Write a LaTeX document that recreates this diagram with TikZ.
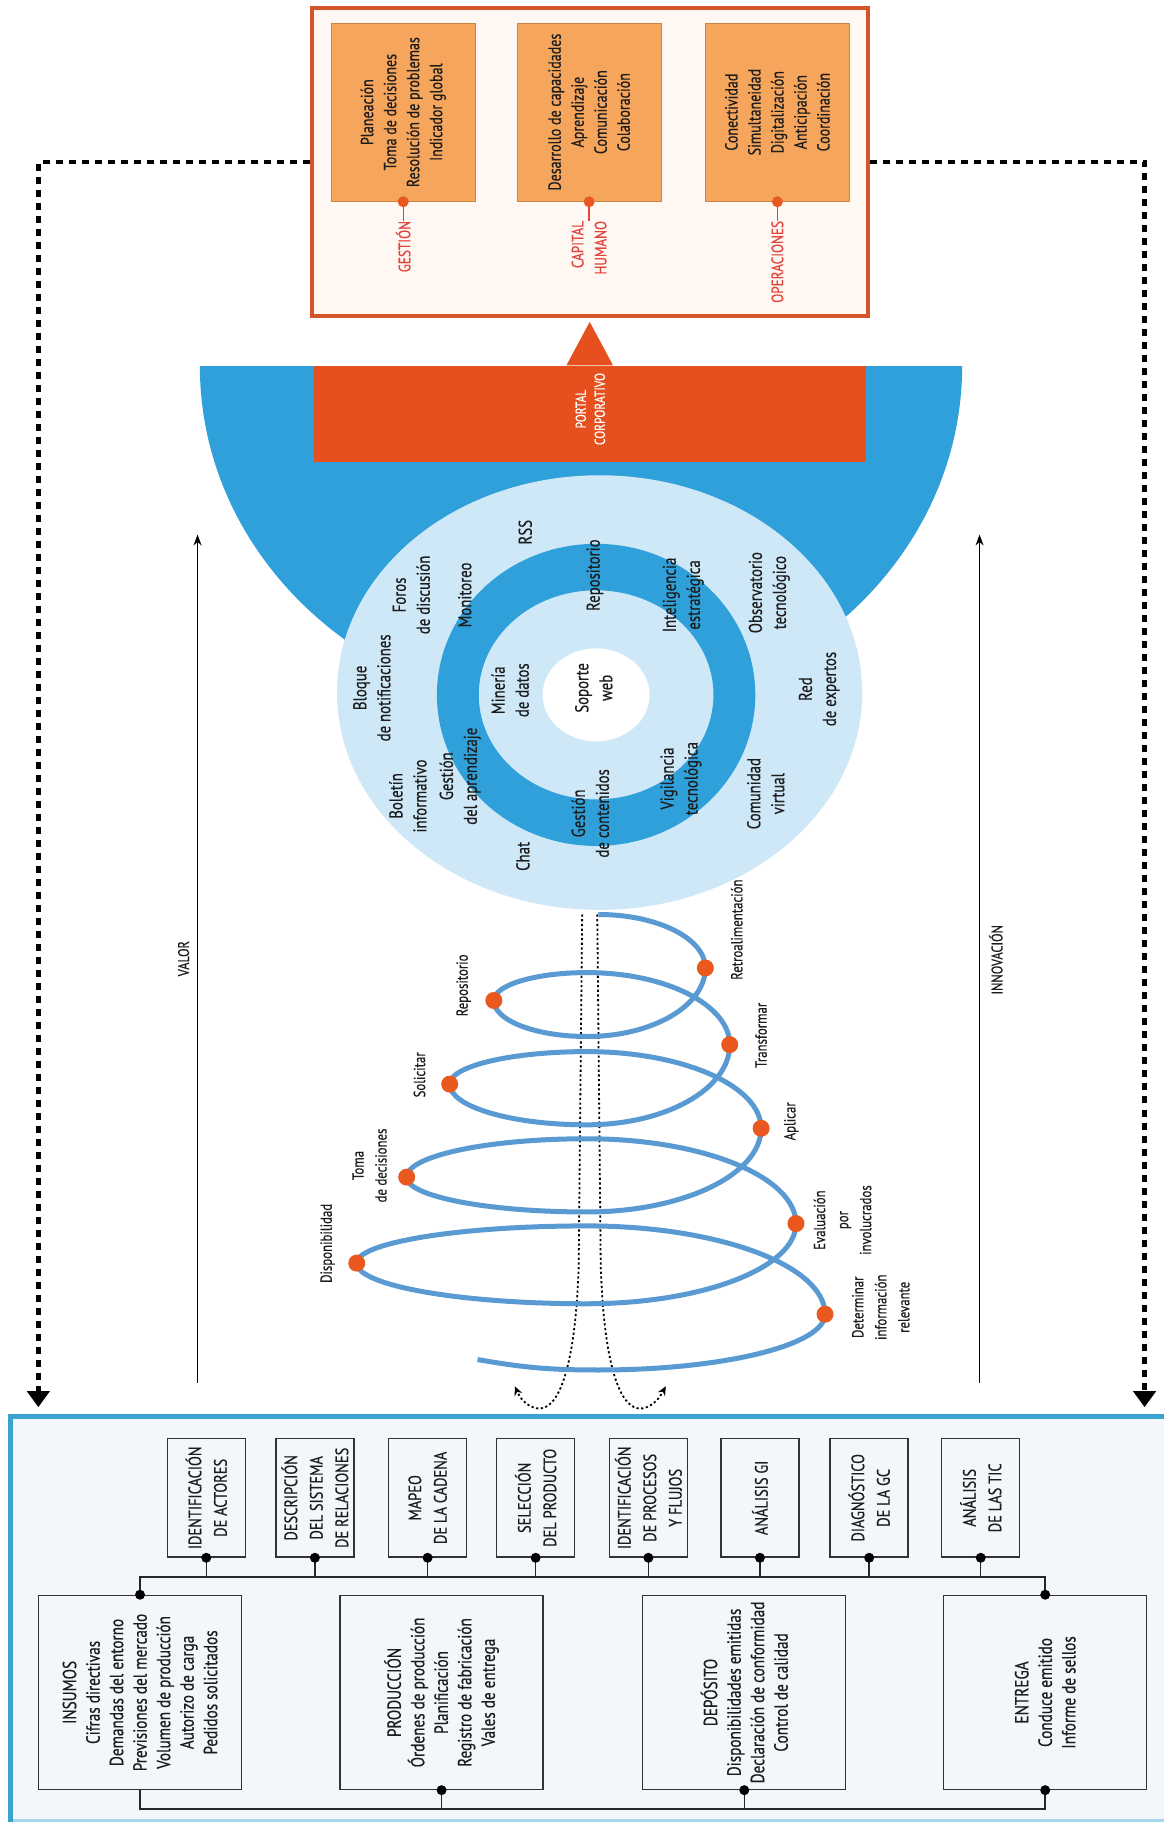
\documentclass[tikz,border=0pt]{standalone}
\usepackage{fontspec}
\setmainfont{PT Sans}[FakeStretch=0.8, FakeBold=0.5]
\usetikzlibrary{arrows.meta,calc}
\definecolor{portalorange}{HTML}{E5501E}
\definecolor{ringblue}{HTML}{2FA0DA}
\definecolor{lightring}{HTML}{CFE8F7}
\definecolor{boxorange}{HTML}{F5A55C}
\definecolor{boxedge}{HTML}{C98543}
\definecolor{topframe}{HTML}{D5552B}
\definecolor{topfill}{HTML}{FFF8F2}
\definecolor{labelred}{HTML}{E0443C}
\definecolor{dotorange}{HTML}{E8581F}
\definecolor{spiralblue}{HTML}{5A9AD2}
\definecolor{frameblue}{HTML}{3AA3D2}
\definecolor{framefill}{HTML}{F3F6FA}
\definecolor{textdark}{HTML}{1C1C1C}
\tikzset{
  rtext/.style={rotate=90, align=center, inner sep=0pt, text=textdark},
  toptext/.style={rtext, font=\fontsize{17.5}{23}\selectfont},
  circtext/.style={rtext, font=\fontsize{18.5}{24}\selectfont},
  spirtext/.style={rtext, font=\fontsize{16}{23}\selectfont},
  redlabel/.style={rotate=90, anchor=east, align=right, inner sep=0pt, text=labelred, font=\fontsize{16.5}{23}\selectfont},
  obox/.style={draw=boxedge, fill=boxorange, line width=1.2pt, minimum width=144pt, minimum height=178pt, inner sep=0pt},
  sbox/.style={draw=black!80, fill=framefill, line width=1.4pt, minimum width=78pt, minimum height=118.5pt, inner sep=0pt},
  lbox/.style={draw=black!80, fill=framefill, line width=1.4pt, minimum width=203pt, minimum height=194pt, inner sep=0pt},
  stext/.style={rtext, font=\fontsize{18}{25.5}\selectfont},
  ltext/.style={rtext, font=\fontsize{19}{23.5}\selectfont},
  bigdash/.style={line width=4.5pt, dash pattern=on 7pt off 6pt, black},
  dotline/.style={line width=1.8pt, dash pattern=on 2.2pt off 2.5pt, black},
  helix/.style={line width=5pt, spiralblue},
  hdot/.style={circle, fill=dotorange, minimum size=17pt, inner sep=0pt},
  bdot/.style={circle, fill=black, minimum size=10pt, inner sep=0pt},
  conn/.style={line width=1.5pt, black!85},
  rdot/.style={circle, fill=dotorange, minimum size=11pt, inner sep=0pt},
}
\begin{document}
\begin{tikzpicture}[x=1.1618pt, y=1.1618pt]
\path[use as bounding box, fill=white] (0,0) rectangle (1001,-1568);

% ---------- top frame ----------
\node[draw=topframe, fill=topfill, line width=4pt, minimum width=556pt, minimum height=308pt, inner sep=0pt] (topframe) at (507.5,-139.5) {};
\node[obox] (g1) at (347,-96.5) {};
\node[obox] (g2) at (507,-96.5) {};
\node[obox] (g3) at (669,-96.5) {};
\node[toptext] (g1t) at (g1) {Planeación\\Toma de decisiones\\Resolución de problemas\\Indicador global};
\node[toptext] (g2t) at (g2) {Desarrollo de capacidades\\Aprendizaje\\Comunicación\\Colaboración};
\node[toptext] (g3t) at (g3) {Conectividad\\Simultaneidad\\Digitalización\\Anticipación\\Coordinación};
\node[redlabel] (g1l) at (347,-190) {GESTIÓN};
\node[redlabel] (g2l) at (507,-190) {CAPITAL\\HUMANO};
\node[redlabel] (g3l) at (669,-190) {OPERACIONES};
\draw[labelred, line width=1.3pt] (g1.south) -- (g1l.east);
\draw[labelred, line width=1.3pt] (g2.south) -- (g2l.east);
\draw[labelred, line width=1.3pt] (g3.south) -- (g3l.east);
\node[rdot] (g1d) at (g1.south) {};
\node[rdot] (g2d) at (g2.south) {};
\node[rdot] (g3d) at (g3.south) {};

% ---------- dashed feedback lines ----------
\coordinate (lcorner) at (33,-139.5);
\coordinate (ltip) at (33,-1211);
\coordinate (rcorner) at (985,-139.5);
\coordinate (rtip) at (985,-1211);
\draw[bigdash, -{Triangle[width=22pt,length=16pt]}] (topframe.west) -- (lcorner) -- (ltip);
\draw[bigdash, -{Triangle[width=22pt,length=16pt]}] (topframe.east) -- (rcorner) -- (rtip);

% ---------- portal ----------
\fill[ringblue] (172,-315) arc[start angle=180, end angle=360, x radius=328, y radius=300] -- cycle;
\node[fill=portalorange, minimum width=552pt, minimum height=96.4pt, inner sep=0pt] (portal) at (507.5,-356.5) {};
\fill[portalorange] ($(portal.north)+(-20,0.5)$) -- (507.5,-277) -- ($(portal.north)+(20,0.5)$) -- cycle;
\node[rtext, text=white, font=\fontsize{14.5}{19}\selectfont] (portalt) at (508,-352) {PORTAL\\CORPORATIVO};

% ---------- circles ----------
\fill[lightring] (516,-596) ellipse[x radius=226, y radius=187];
\fill[ringblue, even odd rule] (513,-598) ellipse[x radius=137, y radius=130] (513,-598) ellipse[x radius=101, y radius=90];
\fill[white] (513,-598) ellipse[x radius=46, y radius=40];

\node[circtext] (c1) at (452,-458) {RSS};
\node[circtext] (c2) at (354,-512) {Foros\\de discusión};
\node[circtext] (c3) at (400,-512) {Monitoreo};
\node[circtext] (c4) at (512,-495) {Repositorio};
\node[circtext] (c5) at (588,-512) {Inteligencia\\estratégica};
\node[circtext] (c6) at (662,-510) {Observatorio\\tecnológico};
\node[circtext] (c7) at (320,-592) {Bloque\\de notificaciones};
\node[circtext] (c8) at (439,-594) {Minería\\de datos};
\node[circtext] (c9) at (511,-592) {Soporte\\web};
\node[circtext] (c10) at (705,-593) {Red\\de expertos};
\node[circtext] (c11) at (351,-685) {Boletín\\informativo};
\node[circtext] (c12) at (396,-668) {Gestión\\del aprendizaje};
\node[circtext] (c13) at (508,-700) {Gestión\\de contenidos};
\node[circtext] (c14) at (586,-670) {Vigilancia\\tecnológica};
\node[circtext] (c15) at (659,-683) {Comunidad\\virtual};
\node[circtext] (c16) at (450,-737) {Chat};

% ---------- side arrows ----------
\coordinate (vb) at (170,-1190);
\coordinate (vt) at (170,-460);
\coordinate (ib) at (843,-1190);
\coordinate (it) at (843,-460);
\draw[line width=1.2pt, -{Stealth[length=11pt,width=8pt]}] (vb) -- (vt);
\draw[line width=1.2pt, -{Stealth[length=11pt,width=8pt]}] (ib) -- (it);
\node[rtext, font=\fontsize{15.5}{18}\selectfont] (valor) at (158,-825) {VALOR};
\node[rtext, font=\fontsize{15.5}{18}\selectfont] (innov) at (857,-826) {INNOVACIÓN};

% ---------- dotted axis ----------
\coordinate (dl0) at (501,-787);
\coordinate (dr0) at (514,-787);
\coordinate (dlt) at (443,-1193);
\coordinate (drt) at (573,-1193);
\draw[dotline, -{Stealth[length=9pt,width=8pt]}] (dl0) -- (498,-1090) .. controls (495,-1180) and (480,-1215) .. (462,-1212) .. controls (452,-1210) and (447,-1202) .. (dlt);
\draw[dotline, -{Stealth[length=9pt,width=8pt]}] (dr0) -- (517,-1090) .. controls (520,-1180) and (535,-1215) .. (553,-1212) .. controls (563,-1210) and (568,-1202) .. (drt);

% ---------- helix ----------
\draw[helix] (515,-787)
  arc[start angle=90, end angle=0, x radius=92, y radius=46]
  arc[start angle=0, end angle=-90, x radius=102, y radius=59]
  arc[start angle=-90, end angle=-180, x radius=80, y radius=31]
  arc[start angle=180, end angle=90, x radius=80, y radius=24]
  arc[start angle=90, end angle=0, x radius=123, y radius=62]
  arc[start angle=0, end angle=-90, x radius=123, y radius=69]
  arc[start angle=-90, end angle=-180, x radius=118, y radius=35]
  arc[start angle=180, end angle=90, x radius=118, y radius=28]
  arc[start angle=90, end angle=0, x radius=150, y radius=66]
  arc[start angle=0, end angle=-90, x radius=150, y radius=72]
  arc[start angle=-90, end angle=-180, x radius=155, y radius=30]
  arc[start angle=180, end angle=90, x radius=155, y radius=33]
  arc[start angle=90, end angle=0, x radius=180, y radius=73]
  arc[start angle=0, end angle=-90, x radius=180, y radius=69]
  arc[start angle=-90, end angle=-180, x radius=198, y radius=35]
  arc[start angle=180, end angle=90, x radius=198, y radius=32]
  arc[start angle=90, end angle=0, x radius=205, y radius=76]
  arc[start angle=0, end angle=-90, x radius=195, y radius=48]
  to[out=180, in=-10] (411,-1170);

\node[hdot] (r1) at (607,-833) {};
\node[hdot] (r2) at (628,-899) {};
\node[hdot] (r3) at (655,-971) {};
\node[hdot] (r4) at (685,-1053) {};
\node[hdot] (r5) at (710,-1131) {};
\node[hdot] (l1) at (425,-861) {};
\node[hdot] (l2) at (387,-933) {};
\node[hdot] (l3) at (350,-1013) {};
\node[hdot] (l4) at (307,-1087) {};

\node[spirtext] (sr1) at (634,-800) {Retroalimentación};
\node[spirtext] (sl1) at (399,-848) {Repositorio};
\node[spirtext] (sr2) at (655,-891) {Transformar};
\node[spirtext] (sl2) at (361,-925) {Solicitar};
\node[spirtext] (sr3) at (681,-965) {Aplicar};
\node[spirtext] (sl3) at (318,-1003) {Toma\\de decisiones};
\node[spirtext] (sr4) at (725,-1050) {Evaluación\\por\\involucrados};
\node[spirtext] (sl4) at (282,-1070) {Disponibilidad};
\node[spirtext] (sr5) at (758,-1125) {Determinar\\información\\relevante};

% ---------- bottom frame ----------
\fill[framefill] (9,-1219) rectangle (1010,-1568);
\draw[frameblue!45, line width=3pt] (9,-1566.5) -- (1010,-1566.5);
\draw[frameblue, line width=5pt] (9,-1570) -- (9,-1219) -- (1010,-1219);

\node[sbox] (s1) at (177.5,-1289) {};
\node[sbox] (s2) at (271,-1289) {};
\node[sbox] (s3) at (368,-1289) {};
\node[sbox] (s4) at (461,-1289) {};
\node[sbox] (s5) at (558,-1289) {};
\node[sbox] (s6) at (654,-1289) {};
\node[sbox] (s7) at (748,-1289) {};
\node[sbox] (s8) at (844,-1289) {};
\node[stext] (s1t) at (s1) {IDENTIFICACIÓN\\DE ACTORES};
\node[stext] (s2t) at (s2) {DESCRIPCIÓN\\DEL SISTEMA\\DE RELACIONES};
\node[stext] (s3t) at (s3) {MAPEO\\DE LA CADENA};
\node[stext] (s4t) at (s4) {SELECCIÓN\\DEL PRODUCTO};
\node[stext] (s5t) at (s5) {IDENTIFICACIÓN\\DE PROCESOS\\Y FLUJOS};
\node[stext] (s6t) at (s6) {ANÁLISIS GI};
\node[stext] (s7t) at (s7) {DIAGNÓSTICO\\DE LA GC};
\node[stext] (s8t) at (s8) {ANÁLISIS\\DE LAS TIC};

\node[lbox] (b1) at (120.5,-1456.5) {};
\node[lbox] (b2) at (380,-1456.5) {};
\node[lbox] (b3) at (640.5,-1456.5) {};
\node[lbox] (b4) at (899.5,-1456.5) {};
\node[ltext] (b1t) at (b1) {INSUMOS\\Cifras directivas\\Demandas del entorno\\Previsiones del mercado\\Volumen de producción\\Autorizo de carga\\Pedidos solicitados};
\node[ltext] (b2t) at (b2) {PRODUCCIÓN\\Órdenes de producción\\Planificación\\Registro de fabricación\\Vales de entrega};
\node[ltext] (b3t) at (b3) {DEPÓSITO\\Disponibilidades emitidas\\Declaración de conformidad\\Control de calidad};
\node[ltext] (b4t) at (b4) {ENTREGA\\Conduce emitido\\Informe de sellos};

\coordinate (busTL) at (120.5,-1357);
\coordinate (busTR) at (899.5,-1357);
\coordinate (busBL) at (120.5,-1557);
\coordinate (busBR) at (899.5,-1557);
\draw[conn] (b1.north) -- (busTL) -- (busTR) -- (b4.north);
\foreach \s in {s1,s2,s3,s4,s5,s6,s7,s8}{
  \draw[conn] (\s.south) -- (\s.south |- busTL);
  \node[bdot] at (\s.south) {};
}
\node[bdot] (b1d) at (b1.north) {};
\node[bdot] (b4d) at (b4.north) {};
\draw[conn] (b1.south) -- (busBL) -- (busBR) -- (b4.south);
\draw[conn] (b2.south) -- (b2.south |- busBL);
\draw[conn] (b3.south) -- (b3.south |- busBL);
\node[bdot] (b2e) at (b2.south) {};
\node[bdot] (b3e) at (b3.south) {};
\node[bdot] (b4e) at (b4.south) {};
\end{tikzpicture}
\end{document}
